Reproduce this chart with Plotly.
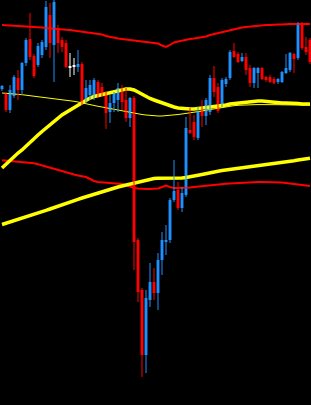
import plotly.graph_objects as go

# ---- candle data (78 bars) ----
opens = [141.1, 140.6, 139.0, 140.4, 142.2, 141.0, 143.7, 146.1, 144.4, 143.5,
         144.5, 145.3, 148.5, 145.5, 147.2, 146.0, 145.7, 143.2, 143.3, 143.3,
         143.6, 140.0, 140.5, 140.2, 141.8, 141.3, 140.7, 138.8, 139.7, 140.0,
         140.8, 140.0, 138.2, 140.2, 126.0, 121.0, 114.5, 120.0, 121.8, 120.7,
         124.0, 125.8, 126.0, 130.0, 131.0, 129.2, 130.5, 137.0, 137.8, 136.2,
         139.0, 138.4, 138.8, 142.2, 141.3, 139.5, 141.6, 142.2, 144.9, 144.6,
         143.9, 144.3, 143.2, 141.7, 142.7, 143.2, 142.3, 142.3, 142.1, 141.8,
         141.8, 142.7, 143.0, 144.6, 144.2, 147.6, 145.3, 146.0]
highs = [141.5, 140.8, 141.5, 142.5, 143.0, 143.8, 146.2, 148.7, 144.6, 145.7,
         146.0, 149.9, 149.7, 150.2, 147.5, 146.3, 146.0, 144.7, 144.2, 145.0,
         143.8, 142.0, 142.0, 142.2, 142.0, 141.7, 140.9, 140.5, 140.8, 141.7,
         141.5, 141.2, 140.3, 140.4, 126.2, 121.2, 121.0, 123.7, 123.2, 124.7,
         126.8, 127.5, 130.2, 134.0, 131.8, 131.3, 138.3, 139.2, 138.5, 139.3,
         140.0, 140.2, 142.5, 143.4, 141.7, 142.2, 142.3, 145.0, 145.7, 144.8,
         144.7, 144.7, 143.5, 143.3, 143.3, 143.3, 142.4, 142.5, 142.3, 142.2,
         142.9, 144.6, 144.8, 144.7, 147.8, 147.8, 146.3, 146.2]
lows = [140.9, 138.8, 138.7, 140.2, 140.0, 140.5, 143.4, 144.0, 142.2, 143.3,
        144.2, 145.0, 144.2, 141.8, 144.7, 144.8, 143.2, 142.3, 142.5, 142.8,
        139.5, 139.7, 140.0, 140.0, 140.2, 140.3, 137.1, 137.7, 138.8, 138.8,
        139.0, 137.8, 137.3, 123.0, 119.8, 112.3, 112.7, 119.3, 120.0, 119.0,
        122.5, 124.5, 125.7, 129.8, 129.0, 128.8, 130.3, 136.6, 136.0, 136.0,
        137.3, 137.5, 138.5, 140.3, 138.7, 139.3, 141.3, 142.0, 144.2, 143.7,
        143.8, 142.5, 141.3, 141.2, 141.2, 142.0, 141.8, 141.7, 141.6, 141.6,
        141.7, 142.6, 142.8, 142.7, 144.0, 145.0, 144.5, 143.6]
closes = [141.4, 139.0, 141.0, 142.3, 141.0, 143.7, 146.0, 144.3, 142.4, 145.4,
          145.8, 149.3, 145.7, 149.8, 145.7, 145.3, 143.3, 143.2, 143.3, 143.6,
          139.7, 141.2, 141.5, 142.0, 140.3, 140.5, 138.7, 139.7, 140.7, 141.2,
          139.8, 138.2, 140.2, 125.8, 120.8, 114.5, 120.2, 121.8, 120.7, 124.0,
          126.0, 126.0, 130.0, 130.9, 129.2, 130.7, 137.2, 136.7, 136.3, 138.8,
          138.4, 140.0, 142.2, 140.8, 138.9, 142.0, 142.1, 144.8, 144.3, 143.8,
          144.3, 143.0, 141.7, 143.2, 143.2, 142.1, 142.0, 141.8, 141.7, 142.1,
          142.8, 143.2, 144.7, 144.1, 147.5, 145.2, 144.8, 143.8]

# ---- indicator lines ----
upper_band = [147.50, 147.48, 147.45, 147.43, 147.40, 147.38, 147.35, 147.33, 147.30, 147.28,
              147.25, 147.20, 147.15, 147.10, 147.07, 147.05, 147.02, 147.00, 146.95, 146.90,
              146.85, 146.80, 146.75, 146.70, 146.65, 146.55, 146.40, 146.30, 146.20, 146.15,
              146.10, 146.05, 145.95, 145.90, 145.85, 145.80, 145.75, 145.70, 145.70, 145.65,
              145.45, 145.30, 145.50, 145.75, 145.85, 145.95, 146.05, 146.10, 146.15, 146.20,
              146.25, 146.35, 146.50, 146.60, 146.70, 146.80, 146.90, 147.00, 147.10, 147.20,
              147.25, 147.30, 147.35, 147.40, 147.45, 147.45, 147.50, 147.50, 147.55, 147.55,
              147.55, 147.60, 147.60, 147.60, 147.60, 147.60, 147.60, 147.60]
lower_band = [133.98, 133.95, 133.90, 133.87, 133.85, 133.80, 133.77, 133.72, 133.67, 133.57,
              133.45, 133.32, 133.20, 133.10, 133.00, 132.90, 132.78, 132.67, 132.55, 132.45,
              132.37, 132.30, 132.10, 131.90, 131.80, 131.77, 131.75, 131.72, 131.70, 131.65,
              131.60, 131.50, 131.35, 131.20, 131.15, 131.10, 131.10, 131.10, 131.10, 131.15,
              131.30, 131.45, 131.30, 131.20, 131.20, 131.20, 131.20, 131.25, 131.30, 131.35,
              131.40, 131.42, 131.45, 131.50, 131.55, 131.60, 131.63, 131.65, 131.68, 131.70,
              131.72, 131.75, 131.77, 131.80, 131.80, 131.80, 131.80, 131.80, 131.80, 131.77,
              131.75, 131.70, 131.65, 131.60, 131.55, 131.50, 131.45, 131.40]
ma_fast = [133.20, 133.60, 134.00, 134.40, 134.70, 135.00, 135.40, 135.80, 136.15, 136.50,
           136.85, 137.20, 137.55, 137.90, 138.20, 138.50, 138.75, 139.00, 139.30, 139.55,
           139.80, 140.00, 140.20, 140.35, 140.45, 140.55, 140.65, 140.75, 140.85, 140.95,
           141.05, 141.10, 141.10, 141.00, 140.80, 140.55, 140.35, 140.15, 140.00, 139.85,
           139.70, 139.55, 139.40, 139.30, 139.20, 139.15, 139.10, 139.10, 139.10, 139.15,
           139.20, 139.20, 139.25, 139.30, 139.35, 139.40, 139.50, 139.60, 139.65, 139.70,
           139.75, 139.80, 139.85, 139.90, 139.90, 139.90, 139.85, 139.80, 139.80, 139.75,
           139.70, 139.70, 139.70, 139.65, 139.65, 139.60, 139.60, 139.60]
ma_thin = [140.70, 140.68, 140.65, 140.62, 140.58, 140.53, 140.48, 140.43, 140.38, 140.35,
           140.30, 140.27, 140.23, 140.18, 140.13, 140.08, 140.03, 139.95, 139.87, 139.80,
           139.70, 139.60, 139.52, 139.45, 139.37, 139.30, 139.22, 139.15, 139.07, 138.98,
           138.90, 138.82, 138.75, 138.68, 138.62, 138.55, 138.50, 138.45, 138.40, 138.40,
           138.40, 138.42, 138.45, 138.50, 138.55, 138.60, 138.65, 138.70, 138.77, 138.83,
           138.90, 138.98, 139.05, 139.12, 139.20, 139.27, 139.33, 139.38, 139.43, 139.47,
           139.50, 139.50, 139.52, 139.53, 139.54, 139.55, 139.55, 139.55, 139.54, 139.53,
           139.52, 139.51, 139.50, 139.50, 139.49, 139.49, 139.48, 139.48]
ma_slow = [127.55, 127.67, 127.80, 127.92, 128.05, 128.17, 128.30, 128.42, 128.54, 128.68,
           128.82, 128.96, 129.10, 129.25, 129.40, 129.55, 129.68, 129.80, 129.93, 130.06,
           130.20, 130.33, 130.47, 130.60, 130.73, 130.85, 130.97, 131.08, 131.20, 131.30,
           131.40, 131.50, 131.60, 131.70, 131.80, 131.90, 132.00, 132.10, 132.15, 132.17,
           132.17, 132.15, 132.13, 132.15, 132.18, 132.20, 132.25, 132.30, 132.38, 132.47,
           132.55, 132.65, 132.73, 132.80, 132.88, 132.95, 133.00, 133.05, 133.12, 133.18,
           133.23, 133.28, 133.32, 133.37, 133.42, 133.47, 133.53, 133.58, 133.64, 133.70,
           133.75, 133.80, 133.85, 133.93, 134.00, 134.07, 134.13, 134.18]

UP = "#1E90FF"
DOWN = "#FF0000"
DOJI = "#FFFFFF"

n = len(opens)
xs = list(range(n))

fig = go.Figure()

# indicator lines (behind candles)
fig.add_trace(go.Scatter(x=xs, y=upper_band, mode="lines", line=dict(color="#FF0000", width=2)))
fig.add_trace(go.Scatter(x=xs, y=lower_band, mode="lines", line=dict(color="#FF0000", width=2)))
fig.add_trace(go.Scatter(x=xs, y=ma_thin, mode="lines", line=dict(color="#FFFF00", width=1)))
fig.add_trace(go.Scatter(x=xs, y=ma_slow, mode="lines", line=dict(color="#FFFF00", width=3.5)))
fig.add_trace(go.Scatter(x=xs, y=ma_fast, mode="lines", line=dict(color="#FFFF00", width=3.5)))

# candles
groups = {UP: [], DOWN: [], DOJI: []}
for i in range(n):
    o, c = opens[i], closes[i]
    col = UP if c > o else (DOWN if c < o else DOJI)
    groups[col].append(i)

for col, idx in groups.items():
    if not idx:
        continue
    wx, wy = [], []
    for i in idx:
        wx += [i, i, None]
        wy += [lows[i], highs[i], None]
    fig.add_trace(go.Scatter(x=wx, y=wy, mode="lines", line=dict(color=col, width=1)))
    bases = [min(opens[i], closes[i]) for i in idx]
    heights = [max(abs(closes[i] - opens[i]), 0.12) for i in idx]
    fig.add_trace(go.Bar(x=idx, y=heights, base=bases, width=0.72,
                         marker=dict(color=col, line=dict(width=0))))

fig.update_layout(
    width=311, height=405,
    margin=dict(l=0, r=0, t=0, b=0),
    paper_bgcolor="#000000", plot_bgcolor="#000000",
    showlegend=False, barmode="overlay",
    xaxis=dict(range=[-0.5, 77.25], visible=False, fixedrange=True),
    yaxis=dict(range=[109.5, 150], visible=False, fixedrange=True),
)

fig.write_html("out.html", config={"displayModeBar": False})
